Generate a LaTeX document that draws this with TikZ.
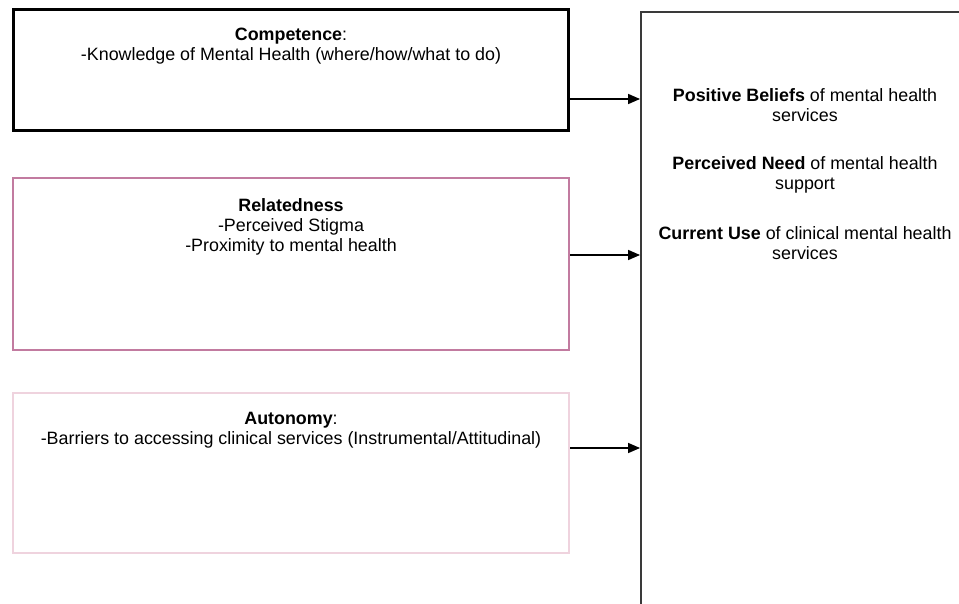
\documentclass[tikz,border=0pt]{standalone}
\usepackage{fontspec}
\setmainfont{Liberation Sans}
\usepackage{tikz}
\usetikzlibrary{arrows.meta}

\definecolor{relpink}{HTML}{C27BA0}
\definecolor{autpink}{HTML}{EFD3DE}
\definecolor{outgray}{HTML}{3A3A3A}

\tikzset{
  sdtbox/.style={draw, rectangle, inner sep=0pt, minimum width=417pt},
  boxtext/.style={align=center, inner sep=0.75pt, font=\fontsize{13.4}{15}\selectfont},
  flow/.style={-{Triangle[length=9pt,width=7.5pt]}, line width=1.1pt, black}
}

\begin{document}
\begin{tikzpicture}[x=0.75pt,y=0.75pt,yscale=-1,xscale=1]
\useasboundingbox (0,0) rectangle (959,603);
\clip (0,0) rectangle (959,603);

%Shape: Rectangle [id:competence]
\node[sdtbox, line width=2.25pt, minimum width=416.25pt, minimum height=90.75pt] (comp) at (291,70) {};
%Shape: Rectangle [id:relatedness]
\node[sdtbox, draw=relpink, line width=1.5pt, minimum height=129pt] (relat) at (291,264) {};
%Shape: Rectangle [id:autonomy]
\node[sdtbox, draw=autpink, line width=1.5pt, minimum height=120pt] (auton) at (291,473) {};
%Shape: Rectangle [id:outcomes] (runs off the right and bottom)
\node[draw=outgray, line width=1.4pt, rectangle, inner sep=0pt, minimum width=269.25pt, minimum height=478.5pt] (outc) at (820.5,331) {};

% Text Node
\node[boxtext] (comptxt) at (291,46.5) {\textbf{Competence}:\\-Knowledge of Mental Health (where/how/what to do)};
% Text Node
\node[boxtext] (relattxt) at (291,227) {\textbf{Relatedness}\\-Perceived Stigma\\-Proximity to mental health};
% Text Node
\node[boxtext] (autontxt) at (291,430) {\textbf{Autonomy}:\\-Barriers to accessing clinical services (Instrumental/Attitudinal)};
% Text Node
\node[boxtext] (belief) at (805,105) {\textbf{Positive Beliefs} of mental health\\services};
% Text Node
\node[boxtext] (need) at (805,174.5) {\textbf{Perceived Need} of mental health\\support};
% Text Node
\node[boxtext] (use) at (805,243) {\textbf{Current Use} of clinical mental health\\services};

% Arrows
\coordinate (a1) at ([yshift=21.75pt]comp.east);
\coordinate (a2) at ([yshift=-6.75pt]relat.east);
\coordinate (a3) at ([yshift=-18.75pt]auton.east);
\draw[flow] (a1) -- (a1 -| outc.west);
\draw[flow] (a2) -- (a2 -| outc.west);
\draw[flow] (a3) -- (a3 -| outc.west);

\end{tikzpicture}
\end{document}
